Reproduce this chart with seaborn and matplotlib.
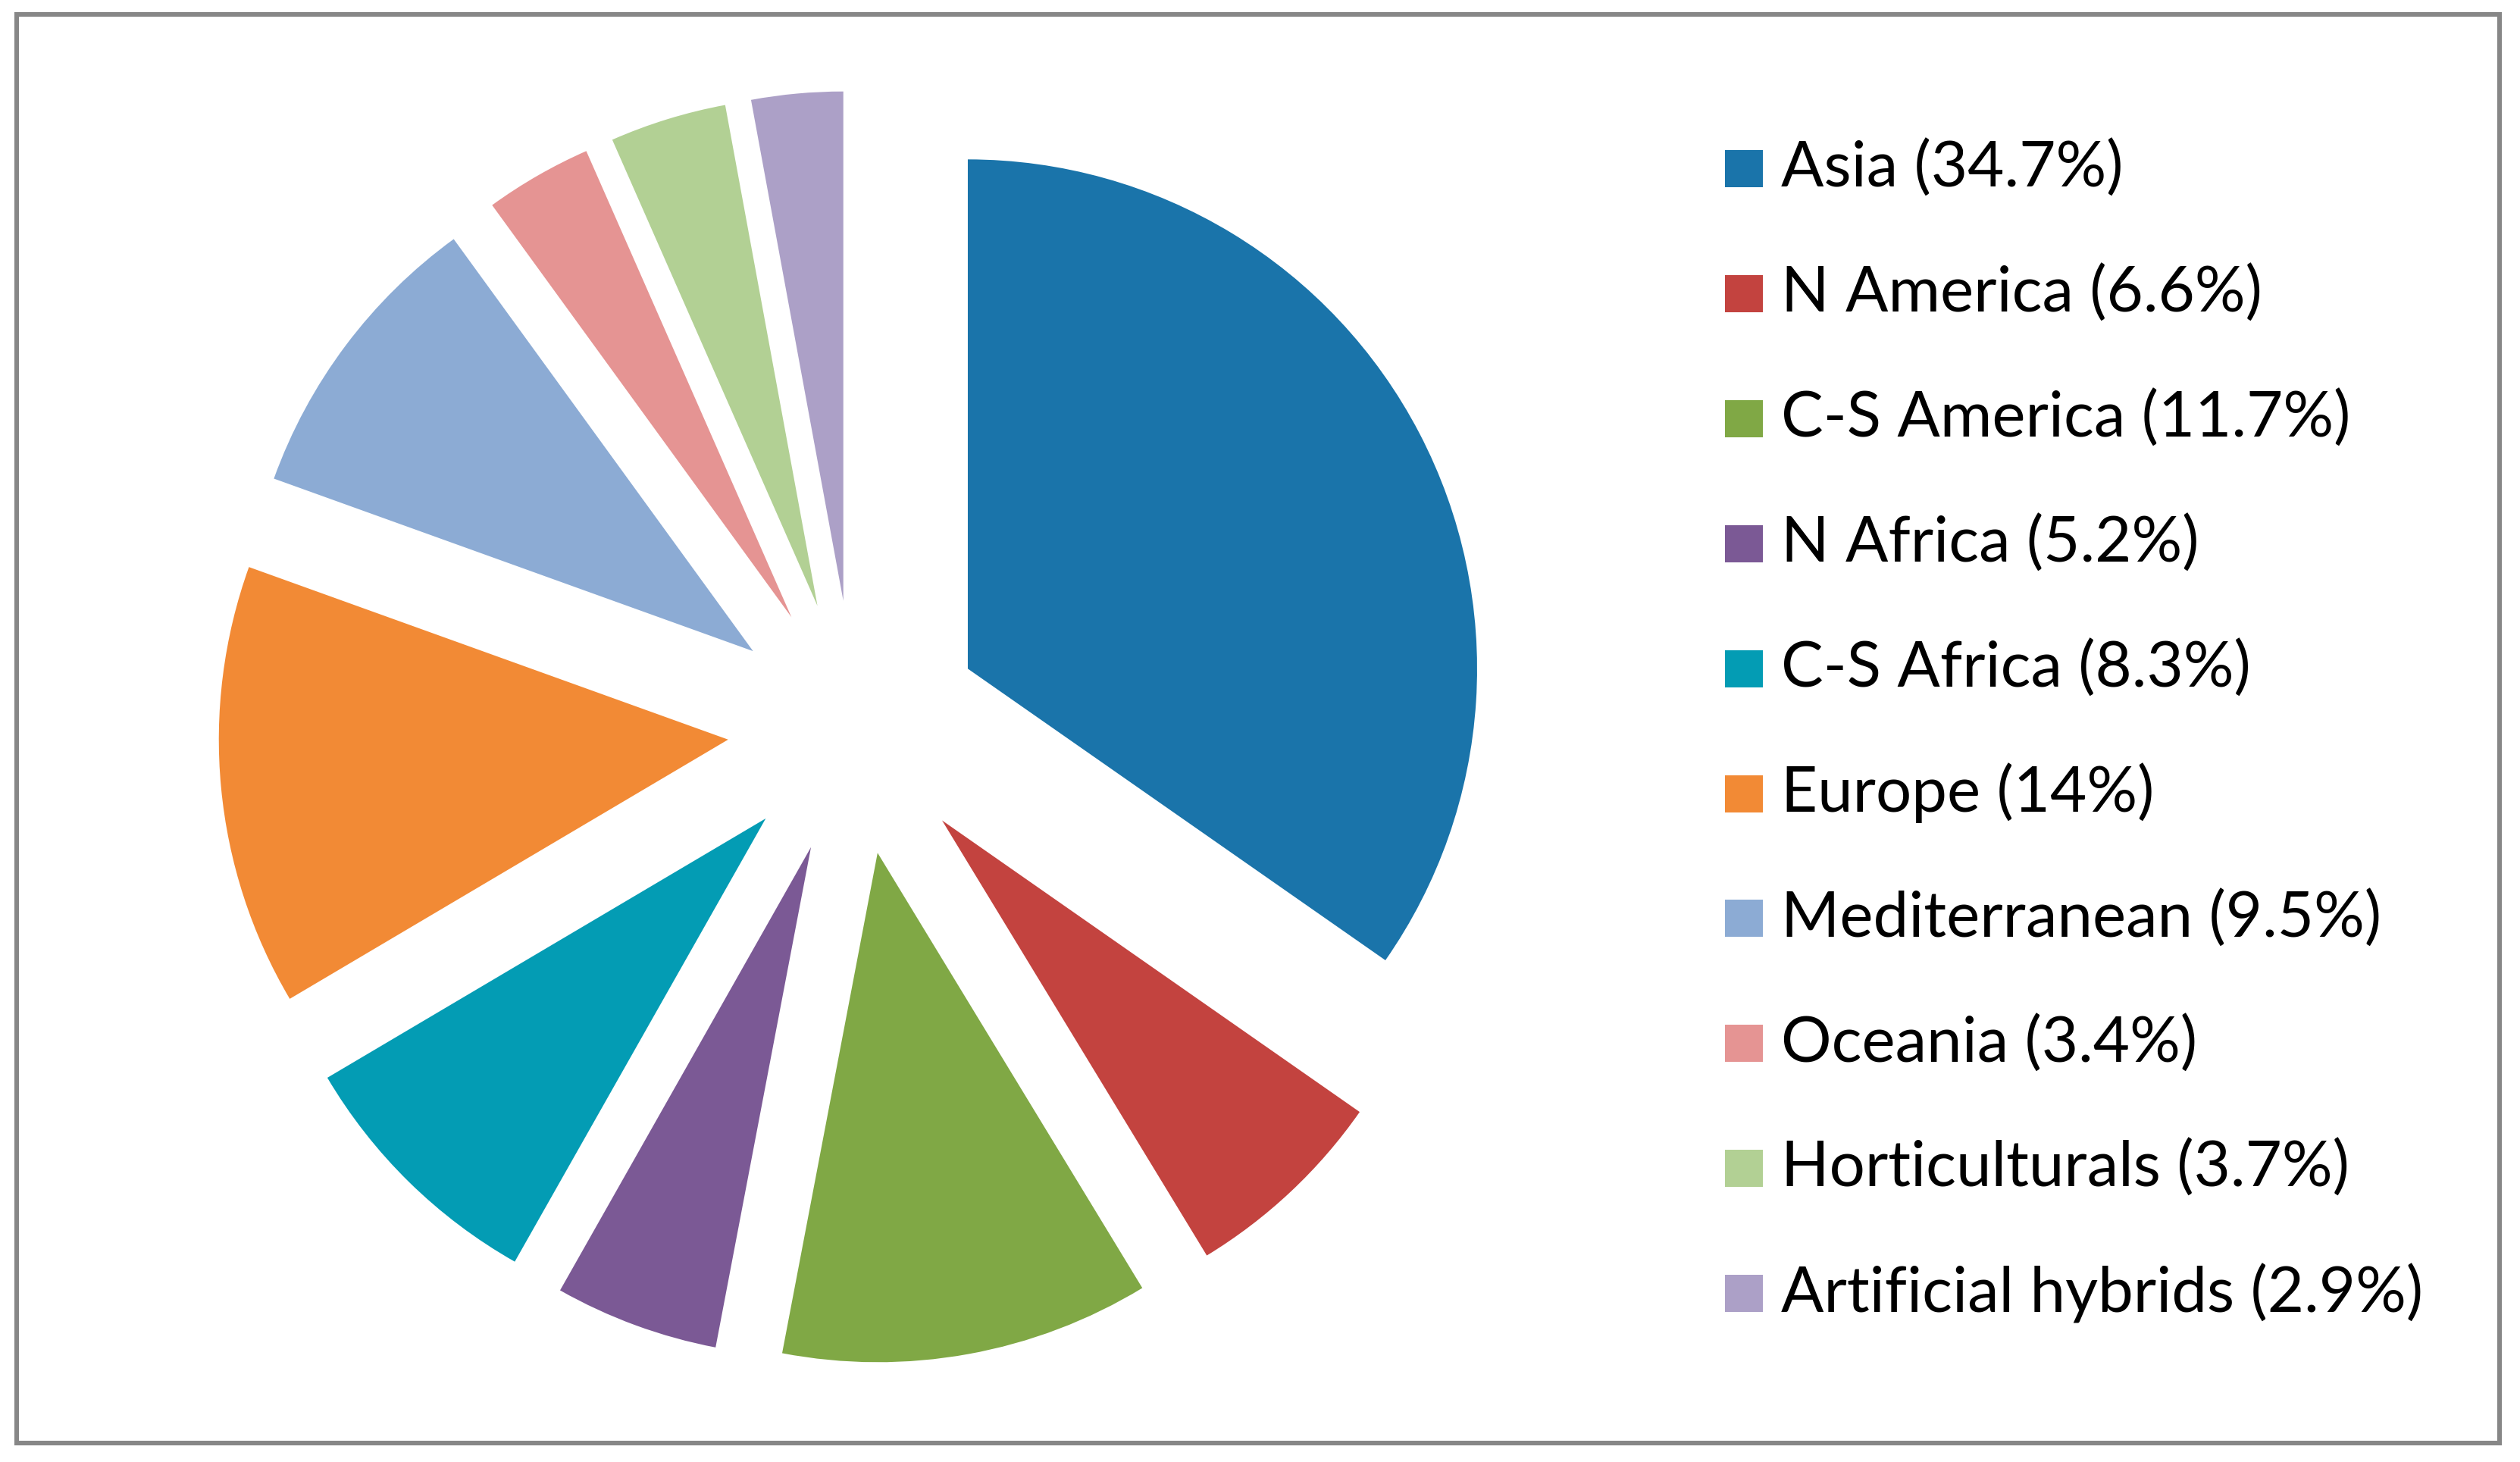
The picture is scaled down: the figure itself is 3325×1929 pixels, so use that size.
import matplotlib
matplotlib.use("Agg")
import matplotlib.pyplot as plt
import matplotlib.patches as mpatches
import seaborn as sns

# ---- data ----
regions = ["Asia", "N America", "C-S America", "N Africa", "C-S Africa",
           "Europe", "Mediterranean", "Oceania", "Horticulturals", "Artificial hybrids"]
shares = [34.7, 6.6, 11.7, 5.2, 8.3, 14, 9.5, 3.4, 3.7, 2.9]
share_labels = ["34.7%", "6.6%", "11.7%", "5.2%", "8.3%", "14%", "9.5%", "3.4%", "3.7%", "2.9%"]
colors = ["#1A74AA", "#C3433F", "#80A845", "#7B5995", "#039CB4",
          "#F28A35", "#8CABD4", "#E59493", "#B2D094", "#ACA0C7"]

sns.set_theme(style="white")
plt.rcParams["font.family"] = ["Lato", "DejaVu Sans"]

W, H, DPI = 3325, 1929, 100
fig = plt.figure(figsize=(W / DPI, H / DPI), dpi=DPI)
fig.patch.set_facecolor("white")

# pie axes: centre at (1128, 960) px, radius 672 px
cx, cy, R = 1128, 960, 672
ax = fig.add_axes([0, 0, 1, 1])
ax.set_xlim(-cx / R, (W - cx) / R)
ax.set_ylim(-(H - cy) / R, cy / R)
ax.axis("off")

wedges, _ = ax.pie(shares, colors=colors, startangle=90, counterclock=False,
                   explode=[0.25] * len(shares), radius=1,
                   wedgeprops=dict(linewidth=0), center=(0, 0), frame=False)
ax.set_xlim(-cx / R, (W - cx) / R)
ax.set_ylim(-(H - cy) / R, cy / R)
ax.set_aspect("auto")

# legend (manual, pixel placement)
def fx(px):
    return px / W

def fy(py):
    return 1 - py / H

base0, step = 247, 164.9
for i, (name, lab, col) in enumerate(zip(regions, share_labels, colors)):
    yb = base0 + step * i
    fig.patches.append(mpatches.Rectangle((fx(2276), fy(yb)), 50 / W, 49 / H,
                                          transform=fig.transFigure, facecolor=col,
                                          edgecolor="none"))
    fig.text(fx(2350), fy(yb), f"{name} ({lab})", fontsize=60, color="black",
             ha="left", va="baseline")

# outer frame
fig.patches.append(mpatches.Rectangle((fx(22), fy(1904)), (3298 - 22) / W, (1904 - 19) / H,
                                      transform=fig.transFigure, facecolor="none",
                                      edgecolor="#878787", linewidth=4.4))

fig.savefig("out.png", dpi=DPI, facecolor="white")
